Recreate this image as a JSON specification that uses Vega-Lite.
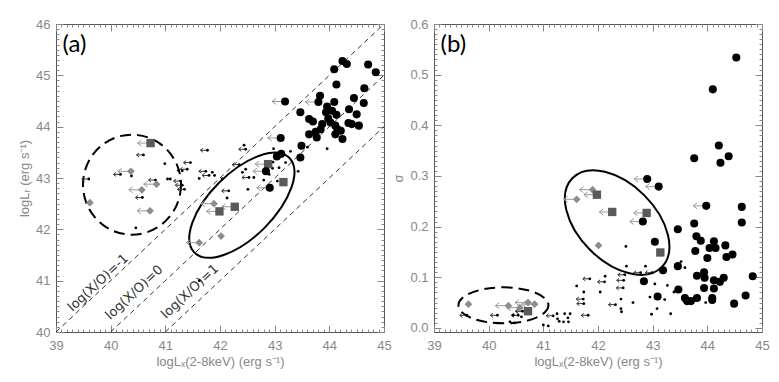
{
"$schema": "https://vega.github.io/schema/vega-lite/v6.json",
"padding": {"left": 18, "top": 17, "right": 0, "bottom": 0},
"bounds": "flush",
"spacing": 50,
"config": {
  "view": {"stroke": "#555", "strokeWidth": 1},
  "axis": {"grid": false, "domain": false, "labelFont": "Liberation Sans", "labelFontSize": 13, "labelColor": "#888", "titleFont": "Liberation Sans", "titleFontSize": 13, "titleFontWeight": "normal", "titleColor": "#888", "tickColor": "#888", "tickWidth": 1, "labelFlush": false, "labelOverlap": false}
},
"datasets": {
  "diag": [{"k":"m1","x":39,"y":40},{"k":"m1","x":45,"y":46},{"k":"z","x":40,"y":40},{"k":"z","x":45,"y":45},{"k":"p1","x":41,"y":40},{"k":"p1","x":45,"y":44}],
  "diaglab": [{"t":"log(X/O)=-1","x":39.77,"y":40.96},{"t":"log(X/O)=0","x":40.43,"y":40.77},{"t":"log(X/O)=1","x":41.45,"y":40.79}],
  "a": [
    {"x":43.19,"y":44.49,"t":"c","u":1},{"x":43.11,"y":43.78,"t":"c","u":1},{"x":43.04,"y":43.42,"t":"c","u":0},{"x":43.12,"y":43.47,"t":"c","u":0},
    {"x":42.84,"y":43.13,"t":"c","u":1},{"x":42.91,"y":42.81,"t":"c","u":1},{"x":43.47,"y":43.40,"t":"c","u":0},{"x":43.49,"y":43.63,"t":"c","u":0},
    {"x":43.47,"y":44.28,"t":"c","u":0},{"x":43.63,"y":44.15,"t":"c","u":0},{"x":43.70,"y":44.10,"t":"c","u":0},{"x":43.63,"y":43.85,"t":"c","u":0},
    {"x":43.75,"y":43.90,"t":"c","u":0},{"x":43.77,"y":43.79,"t":"c","u":0},{"x":43.84,"y":43.95,"t":"c","u":0},{"x":43.87,"y":44.05,"t":"c","u":0},
    {"x":43.83,"y":44.60,"t":"c","u":0},{"x":43.80,"y":44.48,"t":"c","u":1},{"x":43.96,"y":44.39,"t":"c","u":0},{"x":43.94,"y":44.28,"t":"c","u":0},
    {"x":44.05,"y":44.31,"t":"c","u":0},{"x":44.13,"y":44.23,"t":"c","u":0},{"x":43.98,"y":44.16,"t":"c","u":0},{"x":44.02,"y":44.08,"t":"c","u":0},
    {"x":44.11,"y":44.02,"t":"c","u":0},{"x":44.09,"y":44.48,"t":"c","u":0},{"x":44.09,"y":45.12,"t":"c","u":0},{"x":44.24,"y":45.28,"t":"c","u":0},
    {"x":44.32,"y":45.22,"t":"c","u":0},{"x":44.71,"y":45.21,"t":"c","u":0},{"x":44.85,"y":45.06,"t":"c","u":0},{"x":44.13,"y":44.82,"t":"c","u":0},
    {"x":44.64,"y":44.75,"t":"c","u":0},{"x":44.45,"y":44.56,"t":"c","u":0},{"x":44.63,"y":44.46,"t":"c","u":0},{"x":44.36,"y":44.34,"t":"c","u":0},
    {"x":44.50,"y":44.24,"t":"c","u":0},{"x":44.35,"y":44.07,"t":"c","u":0},{"x":44.41,"y":44.05,"t":"c","u":0},{"x":44.54,"y":44.02,"t":"c","u":0},
    {"x":44.15,"y":43.95,"t":"c","u":0},{"x":44.21,"y":43.92,"t":"c","u":0},{"x":44.11,"y":43.85,"t":"c","u":0},{"x":44.24,"y":43.76,"t":"c","u":0},
    {"x":39.60,"y":42.98,"t":"d","u":1},{"x":40.18,"y":43.07,"t":"d","u":1},{"x":40.60,"y":43.45,"t":"d","u":1},{"x":40.58,"y":42.62,"t":"d","u":1},
    {"x":40.82,"y":42.96,"t":"d","u":1},{"x":41.28,"y":42.94,"t":"d","u":1},{"x":41.35,"y":42.78,"t":"d","u":1},{"x":41.31,"y":42.86,"t":"d","u":1},
    {"x":41.40,"y":43.17,"t":"d","u":1},{"x":41.46,"y":43.30,"t":"d","u":1},{"x":41.77,"y":43.54,"t":"d","u":1},{"x":41.74,"y":43.13,"t":"d","u":1},
    {"x":41.80,"y":43.05,"t":"d","u":1},{"x":42.16,"y":42.75,"t":"d","u":1},{"x":42.35,"y":43.26,"t":"d","u":1},{"x":42.47,"y":43.56,"t":"d","u":1},
    {"x":42.53,"y":43.01,"t":"d","u":1},
    {"x":40.38,"y":43.04,"t":"d","u":0},{"x":40.99,"y":43.28,"t":"d","u":0},{"x":41.04,"y":42.98,"t":"d","u":0},{"x":41.09,"y":42.98,"t":"d","u":0},
    {"x":41.24,"y":43.15,"t":"d","u":0},{"x":41.31,"y":43.14,"t":"d","u":0},{"x":41.62,"y":42.99,"t":"d","u":0},{"x":41.86,"y":43.11,"t":"d","u":0},
    {"x":41.90,"y":43.05,"t":"d","u":0},{"x":42.04,"y":42.98,"t":"d","u":0},{"x":42.13,"y":42.61,"t":"d","u":0},{"x":42.44,"y":43.64,"t":"d","u":0},
    {"x":42.41,"y":43.11,"t":"d","u":0},{"x":42.47,"y":43.17,"t":"d","u":0},{"x":42.51,"y":42.78,"t":"d","u":0},{"x":42.62,"y":43.01,"t":"d","u":0},
    {"x":42.80,"y":42.96,"t":"d","u":0},{"x":42.90,"y":43.07,"t":"d","u":0},{"x":42.96,"y":43.19,"t":"d","u":0},{"x":43.08,"y":43.20,"t":"d","u":0},
    {"x":43.05,"y":42.94,"t":"d","u":0},{"x":43.29,"y":43.52,"t":"d","u":0},{"x":43.43,"y":43.13,"t":"d","u":0},{"x":42.97,"y":43.31,"t":"d","u":0},
    {"x":43.20,"y":43.30,"t":"d","u":0},{"x":43.96,"y":43.57,"t":"d","u":0},{"x":43.60,"y":43.60,"t":"d","u":0},{"x":41.62,"y":41.00,"t":"d","u":0},
    {"x":40.46,"y":42.03,"t":"d","u":0},{"x":42.98,"y":43.57,"t":"d","u":0},
    {"x":39.62,"y":42.52,"t":"g","u":0},{"x":40.37,"y":43.13,"t":"g","u":1},{"x":40.57,"y":42.77,"t":"g","u":1},{"x":40.84,"y":42.88,"t":"g","u":1},
    {"x":40.72,"y":42.36,"t":"g","u":1},{"x":41.89,"y":42.50,"t":"g","u":1},{"x":42.02,"y":41.87,"t":"g","u":0},{"x":41.62,"y":41.74,"t":"g","u":1},
    {"x":40.73,"y":43.68,"t":"s","u":1},{"x":41.99,"y":42.35,"t":"s","u":1},{"x":42.27,"y":42.44,"t":"s","u":1},{"x":42.88,"y":43.27,"t":"s","u":1},
    {"x":43.16,"y":42.92,"t":"s","u":0}
  ],
  "b": [
    {"x":44.53,"y":0.534,"t":"c","u":0},{"x":44.10,"y":0.471,"t":"c","u":0},{"x":44.21,"y":0.360,"t":"c","u":0},{"x":44.39,"y":0.339,"t":"c","u":0},
    {"x":44.24,"y":0.326,"t":"c","u":0},{"x":43.76,"y":0.335,"t":"c","u":0},{"x":42.90,"y":0.294,"t":"c","u":1},{"x":43.11,"y":0.279,"t":"c","u":1},
    {"x":43.98,"y":0.241,"t":"c","u":1},{"x":44.63,"y":0.239,"t":"c","u":0},{"x":44.63,"y":0.208,"t":"c","u":0},{"x":42.82,"y":0.210,"t":"c","u":1},
    {"x":43.46,"y":0.195,"t":"c","u":0},{"x":43.76,"y":0.206,"t":"c","u":0},{"x":43.80,"y":0.181,"t":"c","u":0},{"x":43.88,"y":0.172,"t":"c","u":0},
    {"x":43.78,"y":0.152,"t":"c","u":0},{"x":43.04,"y":0.170,"t":"c","u":0},{"x":44.12,"y":0.171,"t":"c","u":0},{"x":44.04,"y":0.158,"t":"c","u":0},
    {"x":44.15,"y":0.158,"t":"c","u":0},{"x":44.33,"y":0.163,"t":"c","u":0},{"x":44.00,"y":0.138,"t":"c","u":0},{"x":44.35,"y":0.140,"t":"c","u":0},
    {"x":44.46,"y":0.145,"t":"c","u":0},{"x":43.46,"y":0.122,"t":"c","u":0},{"x":43.19,"y":0.114,"t":"c","u":0},{"x":43.81,"y":0.103,"t":"c","u":0},
    {"x":43.94,"y":0.110,"t":"c","u":0},{"x":43.95,"y":0.099,"t":"c","u":0},{"x":44.12,"y":0.094,"t":"c","u":0},{"x":44.23,"y":0.091,"t":"c","u":0},
    {"x":44.30,"y":0.099,"t":"c","u":0},{"x":44.83,"y":0.102,"t":"c","u":0},{"x":42.84,"y":0.092,"t":"c","u":0},{"x":43.47,"y":0.076,"t":"c","u":0},
    {"x":43.09,"y":0.062,"t":"c","u":0},{"x":43.94,"y":0.079,"t":"c","u":0},{"x":44.12,"y":0.078,"t":"c","u":0},{"x":43.59,"y":0.059,"t":"c","u":0},
    {"x":43.63,"y":0.053,"t":"c","u":0},{"x":43.70,"y":0.053,"t":"c","u":0},{"x":43.81,"y":0.059,"t":"c","u":0},{"x":44.09,"y":0.059,"t":"c","u":0},
    {"x":44.09,"y":0.055,"t":"c","u":0},{"x":44.70,"y":0.064,"t":"c","u":0},{"x":44.49,"y":0.048,"t":"c","u":0},
    {"x":39.60,"y":0.025,"t":"d","u":1},{"x":40.16,"y":0.025,"t":"d","u":1},{"x":40.54,"y":0.025,"t":"d","u":1},{"x":40.62,"y":0.033,"t":"d","u":1},
    {"x":41.18,"y":0.024,"t":"d","u":1},{"x":41.73,"y":0.057,"t":"d","u":1},{"x":41.74,"y":0.048,"t":"d","u":1},{"x":41.82,"y":0.025,"t":"d","u":1},
    {"x":41.85,"y":0.097,"t":"d","u":1},{"x":42.12,"y":0.091,"t":"d","u":1},{"x":42.32,"y":0.046,"t":"d","u":1},{"x":42.46,"y":0.079,"t":"d","u":1},
    {"x":42.47,"y":0.094,"t":"d","u":1},{"x":42.49,"y":0.105,"t":"d","u":1},{"x":42.78,"y":0.109,"t":"d","u":1},{"x":42.99,"y":0.109,"t":"d","u":1},
    {"x":40.39,"y":0.012,"t":"d","u":0},{"x":40.47,"y":0.010,"t":"d","u":0},{"x":41.00,"y":0.006,"t":"d","u":0},{"x":41.09,"y":0.004,"t":"d","u":0},
    {"x":41.25,"y":0.028,"t":"d","u":0},{"x":41.39,"y":0.028,"t":"d","u":0},{"x":41.49,"y":0.028,"t":"d","u":0},{"x":41.29,"y":0.013,"t":"d","u":0},
    {"x":41.37,"y":0.012,"t":"d","u":0},{"x":41.46,"y":0.012,"t":"d","u":0},{"x":41.45,"y":0.020,"t":"d","u":0},{"x":41.26,"y":0.018,"t":"d","u":0},
    {"x":41.61,"y":0.083,"t":"d","u":0},{"x":41.74,"y":0.071,"t":"d","u":0},{"x":42.04,"y":0.071,"t":"d","u":0},{"x":42.13,"y":0.102,"t":"d","u":0},
    {"x":42.42,"y":0.057,"t":"d","u":0},{"x":42.42,"y":0.038,"t":"d","u":0},{"x":42.43,"y":0.032,"t":"d","u":0},{"x":42.51,"y":0.161,"t":"d","u":0},
    {"x":42.52,"y":0.122,"t":"d","u":0},{"x":42.64,"y":0.050,"t":"d","u":0},{"x":42.87,"y":0.122,"t":"d","u":0},{"x":42.95,"y":0.061,"t":"d","u":0},
    {"x":42.98,"y":0.027,"t":"d","u":0},{"x":43.04,"y":0.087,"t":"d","u":0},{"x":43.08,"y":0.038,"t":"d","u":0},{"x":43.22,"y":0.056,"t":"d","u":0},
    {"x":43.27,"y":0.084,"t":"d","u":0},{"x":43.33,"y":0.028,"t":"d","u":0},{"x":43.52,"y":0.131,"t":"d","u":0},{"x":43.59,"y":0.119,"t":"d","u":0},
    {"x":43.39,"y":0.071,"t":"d","u":0},{"x":43.97,"y":0.050,"t":"d","u":0},{"x":40.45,"y":0.025,"t":"d","u":0},{"x":40.60,"y":0.022,"t":"d","u":0},
    {"x":39.63,"y":0.047,"t":"g","u":0},{"x":40.36,"y":0.044,"t":"g","u":1},{"x":40.57,"y":0.040,"t":"g","u":1},{"x":40.84,"y":0.047,"t":"g","u":1},
    {"x":40.72,"y":0.050,"t":"g","u":1},{"x":41.90,"y":0.273,"t":"g","u":1},{"x":41.61,"y":0.254,"t":"g","u":1},{"x":42.01,"y":0.163,"t":"g","u":0},
    {"x":41.98,"y":0.263,"t":"s","u":1},{"x":42.26,"y":0.229,"t":"s","u":1},{"x":42.89,"y":0.227,"t":"s","u":1},{"x":43.14,"y":0.149,"t":"s","u":0},
    {"x":40.72,"y":0.033,"t":"s","u":1}
  ]
},
"hconcat": [
{
  "width": 328, "height": 308,
  "resolve": {"axis": {"x": "independent", "y": "independent"}},
  "layer": [
    {"data": {"name": "diag"},
     "mark": {"type": "line", "strokeDash": [5, 4], "color": "#000", "strokeWidth": 0.8},
     "encoding": {
       "x": {"field": "x", "type": "quantitative", "scale": {"domain": [39, 45], "nice": false, "zero": false},
             "axis": {"orient": "bottom", "values": [39,40,41,42,43,44,45], "ticks": false, "labelPadding": 7, "title": "logLₓ(2-8keV) (erg s⁻¹)", "titlePadding": 3}},
       "y": {"field": "y", "type": "quantitative", "scale": {"domain": [40, 46], "nice": false, "zero": false},
             "axis": {"orient": "left", "values": [40,41,42,43,44,45,46], "ticks": false, "labelPadding": 6, "title": "logLᵣ (erg s⁻¹)", "titlePadding": 4}},
       "detail": {"field": "k"}
     }},
    {"data": {"values": [{"x": 40.39, "y": 42.87}]},
     "mark": {"type": "point", "shape": "M0.49,0 C0.49,0.2762 0.2706,0.5 0,0.5 C-0.2706,0.5 -0.49,0.2762 -0.49,0 C-0.49,-0.2762 -0.2706,-0.5 0,-0.5 C0.2706,-0.5 0.49,-0.2762 0.49,0 Z", "size": 40000, "filled": false, "color": "#000", "strokeWidth": 2, "strokeDash": [11, 6], "opacity": 1},
     "encoding": {
       "x": {"field": "x", "type": "quantitative", "scale": {"domain": [39, 45], "nice": false, "zero": false},
             "axis": {"orient": "bottom", "labels": false, "title": null, "values": [39,39.1,39.2,39.3,39.4,39.5,39.6,39.7,39.8,39.9,40,40.1,40.2,40.3,40.4,40.5,40.6,40.7,40.8,40.9,41,41.1,41.2,41.3,41.4,41.5,41.6,41.7,41.8,41.9,42,42.1,42.2,42.3,42.4,42.5,42.6,42.7,42.8,42.9,43,43.1,43.2,43.3,43.4,43.5,43.6,43.7,43.8,43.9,44,44.1,44.2,44.3,44.4,44.5,44.6,44.7,44.8,44.9,45],
                      "tickSize": {"condition": {"test": "abs(datum.value-round(datum.value))<0.001", "value": -7}, "value": -3}}},
       "y": {"field": "y", "type": "quantitative", "scale": {"domain": [40, 46], "nice": false, "zero": false},
             "axis": {"orient": "left", "labels": false, "title": null, "values": [40,40.1,40.2,40.3,40.4,40.5,40.6,40.7,40.8,40.9,41,41.1,41.2,41.3,41.4,41.5,41.6,41.7,41.8,41.9,42,42.1,42.2,42.3,42.4,42.5,42.6,42.7,42.8,42.9,43,43.1,43.2,43.3,43.4,43.5,43.6,43.7,43.8,43.9,44,44.1,44.2,44.3,44.4,44.5,44.6,44.7,44.8,44.9,45,45.1,45.2,45.3,45.4,45.5,45.6,45.7,45.8,45.9,46],
                      "tickSize": {"condition": {"test": "abs(datum.value-round(datum.value))<0.001", "value": -7}, "value": -3}}}
     }},
    {"data": {"values": [{"x": 42.40, "y": 42.47}]},
     "mark": {"type": "point", "shape": "M0.4738,-0.4738 C0.5987,-0.3488 0.4879,-0.0354 0.2263,0.2263 C-0.0354,0.4879 -0.3488,0.5987 -0.4738,0.4738 C-0.5987,0.3488 -0.4879,0.0354 -0.2263,-0.2263 C0.0354,-0.4879 0.3488,-0.5987 0.4738,-0.4738 Z", "size": 40000, "filled": false, "color": "#000", "strokeWidth": 2, "opacity": 1},
     "encoding": {
       "x": {"field": "x", "type": "quantitative", "scale": {"domain": [39, 45], "nice": false, "zero": false},
             "axis": {"orient": "top", "labels": false, "title": null, "values": [39,39.1,39.2,39.3,39.4,39.5,39.6,39.7,39.8,39.9,40,40.1,40.2,40.3,40.4,40.5,40.6,40.7,40.8,40.9,41,41.1,41.2,41.3,41.4,41.5,41.6,41.7,41.8,41.9,42,42.1,42.2,42.3,42.4,42.5,42.6,42.7,42.8,42.9,43,43.1,43.2,43.3,43.4,43.5,43.6,43.7,43.8,43.9,44,44.1,44.2,44.3,44.4,44.5,44.6,44.7,44.8,44.9,45],
                      "tickSize": {"condition": {"test": "abs(datum.value-round(datum.value))<0.001", "value": -7}, "value": -3}}},
       "y": {"field": "y", "type": "quantitative", "scale": {"domain": [40, 46], "nice": false, "zero": false},
             "axis": {"orient": "right", "labels": false, "title": null, "values": [40,40.1,40.2,40.3,40.4,40.5,40.6,40.7,40.8,40.9,41,41.1,41.2,41.3,41.4,41.5,41.6,41.7,41.8,41.9,42,42.1,42.2,42.3,42.4,42.5,42.6,42.7,42.8,42.9,43,43.1,43.2,43.3,43.4,43.5,43.6,43.7,43.8,43.9,44,44.1,44.2,44.3,44.4,44.5,44.6,44.7,44.8,44.9,45,45.1,45.2,45.3,45.4,45.5,45.6,45.7,45.8,45.9,46],
                      "tickSize": {"condition": {"test": "abs(datum.value-round(datum.value))<0.001", "value": -7}, "value": -3}}}
     }},
    {"data": {"name": "diaglab"},
     "mark": {"type": "text", "angle": -43, "font": "DejaVu Sans", "fontSize": 13, "color": "#333", "align": "center", "baseline": "middle"},
     "encoding": {"x": {"field": "x", "type": "quantitative", "axis": null}, "y": {"field": "y", "type": "quantitative", "axis": null}, "text": {"field": "t"}}},
    {"data": {"name": "a"}, "transform": [{"filter": "datum.u == 1 && datum.t != 'd'"}],
     "mark": {"type": "point", "shape": "M0,0L-2.6,0M-1.8,-0.6L-2.6,0L-1.8,0.6", "size": 100, "filled": false, "color": "#9a9a9a", "strokeWidth": 1, "opacity": 1},
     "encoding": {"x": {"field": "x", "type": "quantitative", "axis": null}, "y": {"field": "y", "type": "quantitative", "axis": null}}},
    {"data": {"name": "a"}, "transform": [{"filter": "datum.u == 1 && datum.t == 'd'"}],
     "mark": {"type": "point", "shape": "M0,0L-1.4,0M-0.9,-0.4L-1.4,0L-0.9,0.4", "size": 100, "filled": false, "color": "#333", "strokeWidth": 1, "opacity": 1},
     "encoding": {"x": {"field": "x", "type": "quantitative", "axis": null}, "y": {"field": "y", "type": "quantitative", "axis": null}}},
    {"data": {"name": "a"}, "transform": [{"filter": "datum.t == 'd'"}],
     "mark": {"type": "point", "shape": "circle", "size": 8, "filled": true, "color": "#000", "opacity": 1},
     "encoding": {"x": {"field": "x", "type": "quantitative", "axis": null}, "y": {"field": "y", "type": "quantitative", "axis": null}}},
    {"data": {"name": "a"}, "transform": [{"filter": "datum.t == 'g'"}],
     "mark": {"type": "point", "shape": "diamond", "size": 60, "filled": true, "color": "#8c8c8c", "opacity": 1},
     "encoding": {"x": {"field": "x", "type": "quantitative", "axis": null}, "y": {"field": "y", "type": "quantitative", "axis": null}}},
    {"data": {"name": "a"}, "transform": [{"filter": "datum.t == 's'"}],
     "mark": {"type": "point", "shape": "square", "size": 70, "filled": true, "color": "#5a5a5a", "opacity": 1},
     "encoding": {"x": {"field": "x", "type": "quantitative", "axis": null}, "y": {"field": "y", "type": "quantitative", "axis": null}}},
    {"data": {"name": "a"}, "transform": [{"filter": "datum.t == 'c'"}],
     "mark": {"type": "point", "shape": "circle", "size": 65, "filled": true, "color": "#000", "opacity": 1},
     "encoding": {"x": {"field": "x", "type": "quantitative", "axis": null}, "y": {"field": "y", "type": "quantitative", "axis": null}}},
    {"data": {"values": [{"lab": "(a)", "x": 39.12, "y": 45.82}]},
     "mark": {"type": "text", "font": "Lato", "fontSize": 24, "color": "#000", "align": "left", "baseline": "top"},
     "encoding": {"x": {"field": "x", "type": "quantitative", "axis": null}, "y": {"field": "y", "type": "quantitative", "axis": null}, "text": {"field": "lab"}}}
  ]
},
{
  "width": 328, "height": 308,
  "resolve": {"axis": {"x": "independent", "y": "independent"}},
  "layer": [
    {"data": {"values": [{"x": 40.27, "y": 0.0446}]},
     "mark": {"type": "point", "shape": "M0.45,0 C0.45,0.0994 0.2485,0.18 0,0.18 C-0.2485,0.18 -0.45,0.0994 -0.45,0 C-0.45,-0.0994 -0.2485,-0.18 0,-0.18 C0.2485,-0.18 0.45,-0.0994 0.45,0 Z", "size": 40000, "filled": false, "color": "#000", "strokeWidth": 2, "strokeDash": [11, 6], "opacity": 1},
     "encoding": {
       "x": {"field": "x", "type": "quantitative", "scale": {"domain": [39, 45], "nice": false, "zero": false},
             "axis": {"orient": "bottom", "values": [39,40,41,42,43,44,45], "ticks": false, "labelPadding": 7, "title": "logLₓ(2-8keV) (erg s⁻¹)", "titlePadding": 3}},
       "y": {"field": "y", "type": "quantitative", "scale": {"domain": [-0.008, 0.6], "nice": false, "zero": false},
             "axis": {"orient": "left", "values": [0,0.1,0.2,0.3,0.4,0.5,0.6], "format": ".1f", "ticks": false, "labelPadding": 6, "title": "σ", "titlePadding": 4}}
     }},
    {"data": {"values": [{"x": 42.35, "y": 0.208}]},
     "mark": {"type": "point", "shape": "M0.4455,0.4455 C0.2951,0.5958 -0.0262,0.5182 -0.2722,0.2722 C-0.5182,0.0262 -0.5958,-0.2951 -0.4455,-0.4455 C-0.2951,-0.5958 0.0262,-0.5182 0.2722,-0.2722 C0.5182,-0.0262 0.5958,0.2951 0.4455,0.4455 Z", "size": 40000, "filled": false, "color": "#000", "strokeWidth": 2, "opacity": 1},
     "encoding": {
       "x": {"field": "x", "type": "quantitative", "scale": {"domain": [39, 45], "nice": false, "zero": false},
             "axis": {"orient": "bottom", "labels": false, "title": null, "values": [39,39.1,39.2,39.3,39.4,39.5,39.6,39.7,39.8,39.9,40,40.1,40.2,40.3,40.4,40.5,40.6,40.7,40.8,40.9,41,41.1,41.2,41.3,41.4,41.5,41.6,41.7,41.8,41.9,42,42.1,42.2,42.3,42.4,42.5,42.6,42.7,42.8,42.9,43,43.1,43.2,43.3,43.4,43.5,43.6,43.7,43.8,43.9,44,44.1,44.2,44.3,44.4,44.5,44.6,44.7,44.8,44.9,45],
                      "tickSize": {"condition": {"test": "abs(datum.value-round(datum.value))<0.001", "value": -7}, "value": -3}}},
       "y": {"field": "y", "type": "quantitative", "scale": {"domain": [-0.008, 0.6], "nice": false, "zero": false},
             "axis": {"orient": "left", "labels": false, "title": null, "values": [0,0.01,0.02,0.03,0.04,0.05,0.06,0.07,0.08,0.09,0.1,0.11,0.12,0.13,0.14,0.15,0.16,0.17,0.18,0.19,0.2,0.21,0.22,0.23,0.24,0.25,0.26,0.27,0.28,0.29,0.3,0.31,0.32,0.33,0.34,0.35,0.36,0.37,0.38,0.39,0.4,0.41,0.42,0.43,0.44,0.45,0.46,0.47,0.48,0.49,0.5,0.51,0.52,0.53,0.54,0.55,0.56,0.57,0.58,0.59,0.6],
                      "tickSize": {"condition": {"test": "abs(datum.value*10-round(datum.value*10))<0.001", "value": -7}, "value": -3}}}
     }},
    {"data": {"values": [{"x": 42.35, "y": 0.208}]},
     "mark": {"type": "point", "size": 1, "opacity": 0},
     "encoding": {
       "x": {"field": "x", "type": "quantitative", "scale": {"domain": [39, 45], "nice": false, "zero": false},
             "axis": {"orient": "top", "labels": false, "title": null, "values": [39,39.1,39.2,39.3,39.4,39.5,39.6,39.7,39.8,39.9,40,40.1,40.2,40.3,40.4,40.5,40.6,40.7,40.8,40.9,41,41.1,41.2,41.3,41.4,41.5,41.6,41.7,41.8,41.9,42,42.1,42.2,42.3,42.4,42.5,42.6,42.7,42.8,42.9,43,43.1,43.2,43.3,43.4,43.5,43.6,43.7,43.8,43.9,44,44.1,44.2,44.3,44.4,44.5,44.6,44.7,44.8,44.9,45],
                      "tickSize": {"condition": {"test": "abs(datum.value-round(datum.value))<0.001", "value": -7}, "value": -3}}},
       "y": {"field": "y", "type": "quantitative", "scale": {"domain": [-0.008, 0.6], "nice": false, "zero": false},
             "axis": {"orient": "right", "labels": false, "title": null, "values": [0,0.01,0.02,0.03,0.04,0.05,0.06,0.07,0.08,0.09,0.1,0.11,0.12,0.13,0.14,0.15,0.16,0.17,0.18,0.19,0.2,0.21,0.22,0.23,0.24,0.25,0.26,0.27,0.28,0.29,0.3,0.31,0.32,0.33,0.34,0.35,0.36,0.37,0.38,0.39,0.4,0.41,0.42,0.43,0.44,0.45,0.46,0.47,0.48,0.49,0.5,0.51,0.52,0.53,0.54,0.55,0.56,0.57,0.58,0.59,0.6],
                      "tickSize": {"condition": {"test": "abs(datum.value*10-round(datum.value*10))<0.001", "value": -7}, "value": -3}}}
     }},
    {"data": {"name": "b"}, "transform": [{"filter": "datum.u == 1 && datum.t != 'd'"}],
     "mark": {"type": "point", "shape": "M0,0L-2.6,0M-1.8,-0.6L-2.6,0L-1.8,0.6", "size": 100, "filled": false, "color": "#9a9a9a", "strokeWidth": 1, "opacity": 1},
     "encoding": {"x": {"field": "x", "type": "quantitative", "axis": null}, "y": {"field": "y", "type": "quantitative", "axis": null}}},
    {"data": {"name": "b"}, "transform": [{"filter": "datum.u == 1 && datum.t == 'd'"}],
     "mark": {"type": "point", "shape": "M0,0L-1.4,0M-0.9,-0.4L-1.4,0L-0.9,0.4", "size": 100, "filled": false, "color": "#333", "strokeWidth": 1, "opacity": 1},
     "encoding": {"x": {"field": "x", "type": "quantitative", "axis": null}, "y": {"field": "y", "type": "quantitative", "axis": null}}},
    {"data": {"name": "b"}, "transform": [{"filter": "datum.t == 'd'"}],
     "mark": {"type": "point", "shape": "circle", "size": 8, "filled": true, "color": "#000", "opacity": 1},
     "encoding": {"x": {"field": "x", "type": "quantitative", "axis": null}, "y": {"field": "y", "type": "quantitative", "axis": null}}},
    {"data": {"name": "b"}, "transform": [{"filter": "datum.t == 'g'"}],
     "mark": {"type": "point", "shape": "diamond", "size": 60, "filled": true, "color": "#8c8c8c", "opacity": 1},
     "encoding": {"x": {"field": "x", "type": "quantitative", "axis": null}, "y": {"field": "y", "type": "quantitative", "axis": null}}},
    {"data": {"name": "b"}, "transform": [{"filter": "datum.t == 's'"}],
     "mark": {"type": "point", "shape": "square", "size": 70, "filled": true, "color": "#5a5a5a", "opacity": 1},
     "encoding": {"x": {"field": "x", "type": "quantitative", "axis": null}, "y": {"field": "y", "type": "quantitative", "axis": null}}},
    {"data": {"name": "b"}, "transform": [{"filter": "datum.t == 'c'"}],
     "mark": {"type": "point", "shape": "circle", "size": 65, "filled": true, "color": "#000", "opacity": 1},
     "encoding": {"x": {"field": "x", "type": "quantitative", "axis": null}, "y": {"field": "y", "type": "quantitative", "axis": null}}},
    {"data": {"values": [{"lab": "(b)", "x": 39.12, "y": 0.582}]},
     "mark": {"type": "text", "font": "Lato", "fontSize": 24, "color": "#000", "align": "left", "baseline": "top"},
     "encoding": {"x": {"field": "x", "type": "quantitative", "axis": null}, "y": {"field": "y", "type": "quantitative", "axis": null}, "text": {"field": "lab"}}}
  ]
}
]
}
